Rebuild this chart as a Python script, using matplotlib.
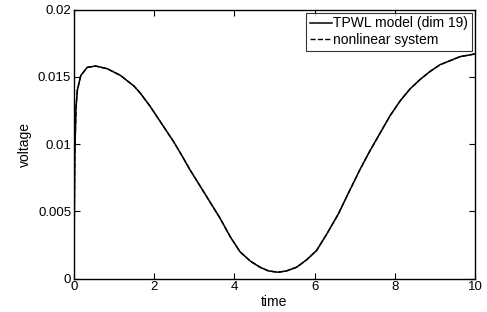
import numpy as np
import matplotlib
matplotlib.use("Agg")
import matplotlib.pyplot as plt

plt.rcParams['font.family'] = ['Liberation Sans', 'DejaVu Sans']

# values
t = [0, 0.01, 0.02, 0.05, 0.083, 0.17, 0.33, 0.54, 0.83, 1.16, 1.5, 1.65,
     1.9, 2.145, 2.48, 2.7, 2.89, 3.1, 3.35, 3.64, 3.9, 4.14, 4.4, 4.64,
     4.85, 5.09, 5.3, 5.55, 5.8, 6.05, 6.3, 6.59, 6.85, 7.13, 7.38, 7.63,
     7.88, 8.13, 8.38, 8.63, 8.88, 9.13, 9.38, 9.63, 9.82, 10.0]
v_tpwl = [0.0, 0.0055, 0.0092, 0.0127, 0.0140, 0.0151, 0.0157, 0.0158,
          0.0156, 0.0151, 0.0143, 0.0138, 0.0128, 0.0117, 0.0102, 0.0091,
          0.0081, 0.0071, 0.0059, 0.0045, 0.0031, 0.0020, 0.0013, 0.00085,
          0.00058, 0.00048, 0.00058, 0.00085, 0.0014, 0.0021, 0.0033,
          0.0048, 0.0064, 0.0081, 0.0095, 0.0108, 0.0121, 0.0132, 0.0141,
          0.0148, 0.0154, 0.0159, 0.0162, 0.0165, 0.0166, 0.0167]
v_nonlin = list(v_tpwl)

xticks = [0, 2, 4, 6, 8, 10]
yticks = [0, 0.005, 0.01, 0.015, 0.02]
ytick_labels = ["0", "0.005", "0.01", "0.015", "0.02"]

fig = plt.figure(figsize=(4.87, 3.12), dpi=100)
ax = fig.add_axes([74 / 487, 1 - 278.7 / 312, 401 / 487, 269.2 / 312])

ax.plot(t, v_tpwl, color='black', lw=1.1, solid_joinstyle='round',
        label="TPWL model (dim 19)")
ax.plot(t, v_nonlin, color='black', lw=1.0, ls='--', label="nonlinear system")

ax.set_xlim(0, 10)
ax.set_ylim(0, 0.02)
ax.set_xticks(xticks)
ax.set_xticklabels([str(x) for x in xticks])
ax.set_yticks(yticks)
ax.set_yticklabels(ytick_labels)
ax.tick_params(direction='in', length=4, width=0.8, top=True, right=True,
               labelsize=9.5, pad=2)
for s in ax.spines.values():
    s.set_linewidth(1.0)

ax.set_xlabel("time", fontsize=10, labelpad=1)
ax.set_ylabel("voltage", fontsize=10, labelpad=4)

leg = ax.legend(loc='upper right', fontsize=10, frameon=True, fancybox=False,
                edgecolor='black', borderaxespad=0.25, handlelength=1.6,
                handletextpad=0.1, borderpad=0.25, labelspacing=0.2)
leg.get_frame().set_linewidth(0.8)

fig.savefig("out.png", dpi=100)
